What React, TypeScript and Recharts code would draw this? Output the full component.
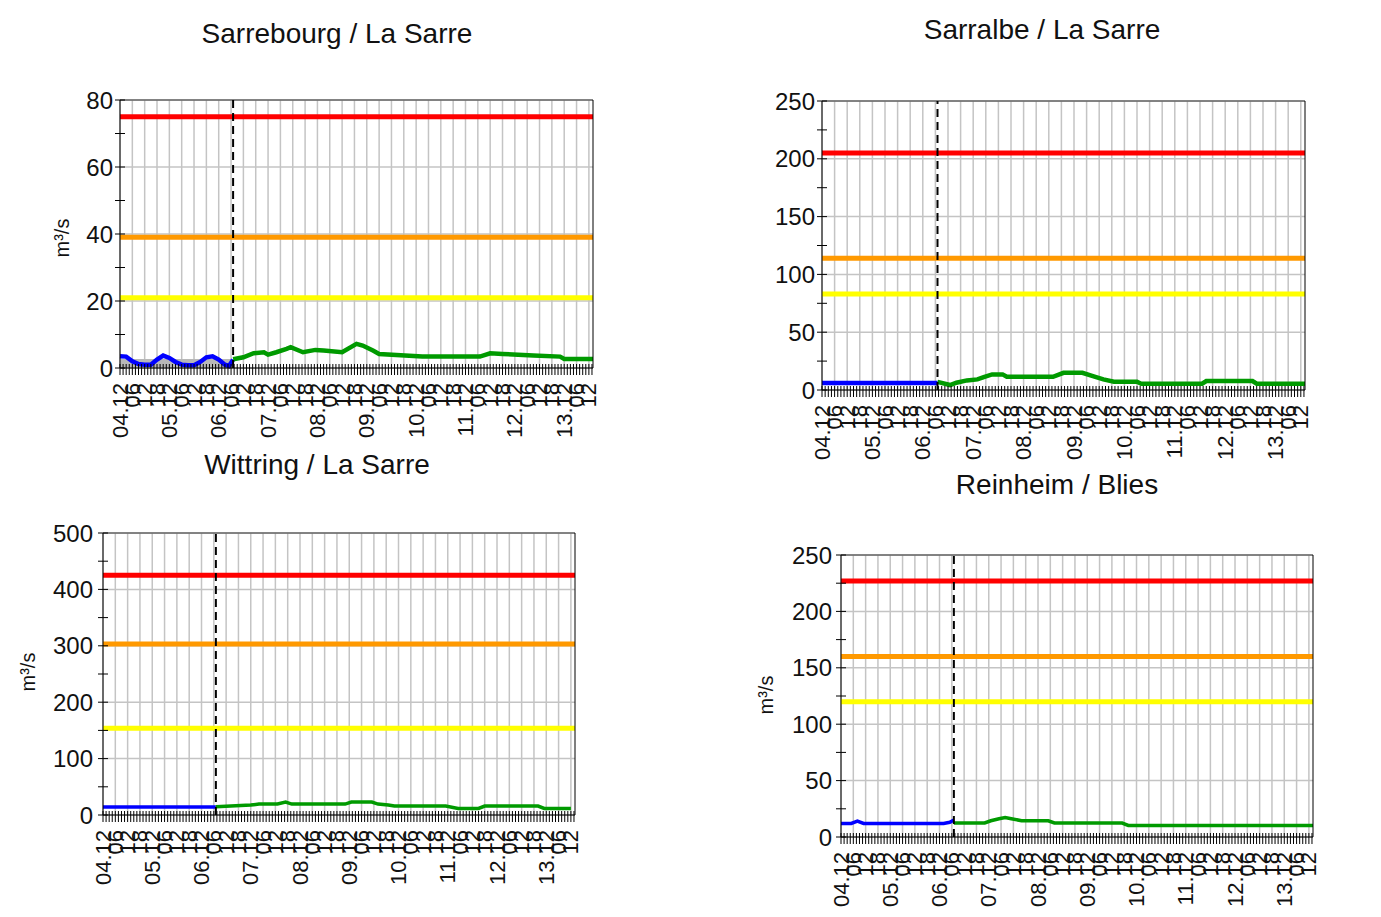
import React from "react";
import { ComposedChart, Line, Area, XAxis, YAxis, CartesianGrid, ReferenceLine } from "recharts";

// x values are hours counted from 04.12 00:00
const dayLabels = ["04.12", "05.12", "06.12", "07.12", "08.12", "09.12", "10.12", "11.12", "12.12", "13.12"];
const hourLabels = ["06", "12", "18"];
const xDomain = [0, 230];
const nowHour = 55;
const gridHours = Array.from({ length: 39 }, (_, i) => i * 6);
const minorHours = Array.from({ length: 154 }, (_, i) => i * 1.5);

// Sarrebourg / La Sarre
const sarrebourgObs = [
  { h: 0, v: 3.5 }, { h: 3, v: 3.4 }, { h: 6, v: 2 }, { h: 9, v: 1.2 }, { h: 12, v: 1 }, { h: 15, v: 1 },
  { h: 18, v: 2.5 }, { h: 21, v: 3.7 }, { h: 24, v: 3 }, { h: 27, v: 1.8 }, { h: 30, v: 1 }, { h: 33, v: 0.8 },
  { h: 36, v: 0.8 }, { h: 39, v: 1.8 }, { h: 42, v: 3.2 }, { h: 45, v: 3.5 }, { h: 48, v: 2.5 }, { h: 51, v: 1 },
  { h: 53, v: 0.6 }, { h: 55, v: 2.5 },
];
const sarrebourgLow = [{ h: 0, v: 2.7 }, { h: 55, v: 2.7 }];
const sarrebourgFc = [
  { h: 55, v: 2.6 }, { h: 60, v: 3.2 }, { h: 65, v: 4.4 }, { h: 70, v: 4.7 }, { h: 72, v: 4 }, { h: 76, v: 4.7 },
  { h: 81, v: 5.7 }, { h: 83, v: 6.2 }, { h: 89, v: 4.7 }, { h: 95, v: 5.4 }, { h: 99, v: 5.2 }, { h: 108, v: 4.7 },
  { h: 115, v: 7.2 }, { h: 118, v: 6.7 }, { h: 123, v: 5.2 }, { h: 126, v: 4.2 }, { h: 147, v: 3.4 }, { h: 175, v: 3.4 },
  { h: 180, v: 4.4 }, { h: 186, v: 4.2 }, { h: 201, v: 3.7 }, { h: 214, v: 3.4 }, { h: 216, v: 2.7 }, { h: 230, v: 2.7 },
];
const sarrebourgLevels = [75, 39, 21];
const sarrebourgTicks = [0, 10, 20, 30, 40, 50, 60, 70, 80];

// Sarralbe / La Sarre
const sarralbeObs = [{ h: 0, v: 6 }, { h: 30, v: 6 }, { h: 55, v: 6 }];
const sarralbeFc = [
  { h: 55, v: 7 }, { h: 61, v: 4.3 }, { h: 64, v: 6.3 }, { h: 69, v: 8.3 }, { h: 74, v: 9.2 }, { h: 77, v: 11.2 },
  { h: 81, v: 13.5 }, { h: 86, v: 13.5 }, { h: 88, v: 11.4 }, { h: 110, v: 11.4 }, { h: 115, v: 14.9 }, { h: 124, v: 14.9 },
  { h: 129, v: 12 }, { h: 134, v: 9.2 }, { h: 139, v: 7.1 }, { h: 150, v: 7.1 }, { h: 152, v: 5.4 }, { h: 181, v: 5.4 },
  { h: 183, v: 7.7 }, { h: 205, v: 7.7 }, { h: 207, v: 5.4 }, { h: 230, v: 5.4 },
];
const sarralbeLevels = [205, 114, 83];
const sarralbeTicks = [0, 25, 50, 75, 100, 125, 150, 175, 200, 225, 250];

// Wittring / La Sarre
const wittringObs = [{ h: 0, v: 14 }, { h: 30, v: 14 }, { h: 55, v: 14 }];
const wittringFc = [
  { h: 55, v: 14.5 }, { h: 72, v: 17.6 }, { h: 76, v: 19.4 }, { h: 85, v: 19.4 }, { h: 89, v: 22.9 }, { h: 92, v: 19.4 },
  { h: 118, v: 19.4 }, { h: 121, v: 22.9 }, { h: 131, v: 22.9 }, { h: 134, v: 19.4 }, { h: 139, v: 17.6 }, { h: 142, v: 15.8 },
  { h: 167, v: 15.8 }, { h: 173, v: 11.7 }, { h: 183, v: 11.7 }, { h: 186, v: 15.8 }, { h: 212, v: 15.8 }, { h: 215, v: 11.7 },
  { h: 228, v: 11.7 },
];
const wittringLevels = [425, 303, 154];
const wittringTicks = [0, 50, 100, 150, 200, 250, 300, 350, 400, 450, 500];

// Reinheim / Blies
const reinheimObs = [
  { h: 0, v: 12 }, { h: 5, v: 12 }, { h: 8, v: 14 }, { h: 11, v: 12 }, { h: 50, v: 12 }, { h: 53, v: 13 }, { h: 55, v: 15 },
];
const reinheimFc = [
  { h: 55, v: 12.4 }, { h: 70, v: 12.4 }, { h: 73, v: 14.4 }, { h: 77, v: 16.2 }, { h: 80, v: 17.3 }, { h: 83, v: 16.2 },
  { h: 88, v: 14.4 }, { h: 101, v: 14.4 }, { h: 104, v: 12.4 }, { h: 137, v: 12.4 }, { h: 140, v: 10.3 }, { h: 230, v: 10.3 },
];
const reinheimLevels = [227, 160, 120];
const reinheimTicks = [0, 25, 50, 75, 100, 125, 150, 175, 200, 225, 250];

const levelColors = ["#ff0000", "#ff9900", "#ffff00"];
const FONT = '"Liberation Sans", Arial, sans-serif';
const X_TICK_SIZE = 7;
const X_TICK_MARGIN = 8;
const Y_TICK_SIZE = 5;
const LEFT_W = 100;
const RIGHT_W = 80;
const X_H = 100;
const TOP_M = 20;

function hourLabel(h: number) {
  const hh = h % 24;
  return hh === 0 ? dayLabels[h / 24] : hourLabels[hh / 6 - 1];
}

function XTick(props: any) {
  const { x, y, payload } = props;
  const h = payload.value;
  const axisY = y - X_TICK_SIZE - X_TICK_MARGIN;
  return (
    <g>
      <line x1={x} x2={x} y1={axisY} y2={axisY - 4} stroke="#000" />
      {h % 6 === 0 && (
        <text
          x={x}
          y={y}
          transform={`rotate(-90, ${x}, ${y})`}
          textAnchor="end"
          dominantBaseline="central"
          fontSize={22}
          fontFamily={FONT}
          fill="#111"
        >
          {hourLabel(h)}
        </text>
      )}
    </g>
  );
}

function YTick(props: any) {
  const { x, y, payload, side, step, margin } = props;
  const v = payload.value;
  const left = side === "left";
  const axisX = left ? x + Y_TICK_SIZE + margin : x - Y_TICK_SIZE - margin;
  return (
    <g>
      <line x1={axisX} x2={left ? axisX + 5 : axisX - 5} y1={y} y2={y} stroke="#000" />
      {v % step === 0 && (
        <text
          x={x}
          y={y}
          textAnchor={left ? "end" : "start"}
          dominantBaseline="central"
          fontSize={24}
          fontFamily={FONT}
          fill="#111"
        >
          {v}
        </text>
      )}
    </g>
  );
}

type PanelProps = {
  x0: number; x1: number; y0: number; y1: number;
  max: number; yTicks: number[]; step: number;
  levels: number[]; obs: { h: number; v: number }[]; fc: { h: number; v: number }[];
  low?: { h: number; v: number }[];
  lm: number; rm: number; lineW: number;
};

function Panel(p: PanelProps) {
  const width = p.x1 - p.x0 + LEFT_W + RIGHT_W;
  const height = p.y1 - p.y0 + TOP_M + X_H;
  const hLines = p.yTicks.filter((t) => t % p.step === 0);
  return (
    <div style={{ position: "absolute", left: p.x0 - LEFT_W, top: p.y0 - TOP_M }}>
      <ComposedChart width={width} height={height} margin={{ top: TOP_M, right: 0, bottom: 0, left: 0 }}>
        <CartesianGrid
          yAxisId="l"
          stroke="#c4c4c4"
          strokeWidth={1.5}
          verticalValues={gridHours}
          horizontalValues={hLines}
        />
        <XAxis
          dataKey="h"
          type="number"
          domain={xDomain}
          ticks={minorHours}
          interval={0}
          height={X_H}
          tickSize={X_TICK_SIZE}
          tickMargin={X_TICK_MARGIN}
          axisLine={{ stroke: "#000" }}
          tickLine={{ stroke: "#000" }}
          tick={(t: any) => <XTick {...t} />}
        />
        <YAxis
          yAxisId="l"
          orientation="left"
          type="number"
          domain={[0, p.max]}
          ticks={p.yTicks}
          interval={0}
          width={LEFT_W}
          tickSize={Y_TICK_SIZE}
          tickMargin={p.lm}
          axisLine={{ stroke: "#000" }}
          tickLine={{ stroke: "#000" }}
          tick={(t: any) => <YTick {...t} side="left" step={p.step} margin={p.lm} />}
        />
        <YAxis
          yAxisId="r"
          orientation="right"
          type="number"
          domain={[0, p.max]}
          ticks={p.yTicks}
          interval={0}
          width={RIGHT_W}
          tickSize={Y_TICK_SIZE}
          tickMargin={p.rm}
          axisLine={{ stroke: "#000" }}
          tickLine={{ stroke: "#000" }}
          tick={(t: any) => <YTick {...t} side="right" step={p.step} margin={p.rm} />}
        />
        <ReferenceLine yAxisId="l" y={p.max} stroke="#333" strokeWidth={1} />
        {p.low && (
          <Area
            yAxisId="l"
            data={p.low}
            dataKey="v"
            type="linear"
            stroke="none"
            fill="#b8b8b8"
            fillOpacity={1}
            isAnimationActive={false}
          />
        )}
        {p.levels.map((lv, i) => (
          <ReferenceLine key={i} yAxisId="l" y={lv} stroke={levelColors[i]} strokeWidth={5} />
        ))}
        <Line
          yAxisId="l"
          data={p.obs}
          dataKey="v"
          type="linear"
          stroke="#0000ff"
          strokeWidth={p.lineW}
          dot={false}
          isAnimationActive={false}
        />
        <Line
          yAxisId="l"
          data={p.fc}
          dataKey="v"
          type="linear"
          stroke="#009a00"
          strokeWidth={p.lineW}
          dot={false}
          isAnimationActive={false}
        />
        <ReferenceLine yAxisId="l" x={nowHour} stroke="#000" strokeWidth={2} strokeDasharray="8 5" />
      </ComposedChart>
    </div>
  );
}

const titleStyle: React.CSSProperties = {
  position: "absolute",
  transform: "translate(-50%, -50%)",
  fontFamily: FONT,
  fontSize: 28,
  color: "#111",
  whiteSpace: "nowrap",
};

const unitStyle: React.CSSProperties = {
  position: "absolute",
  transform: "translate(-50%, -50%) rotate(-90deg)",
  fontFamily: FONT,
  fontSize: 20,
  color: "#111",
  whiteSpace: "nowrap",
};

export default function App() {
  return (
    <div style={{ position: "relative", margin: -8, width: 1381, height: 917, background: "#fff", overflow: "hidden" }}>
      <Panel x0={120} x1={593} y0={100} y1={368} max={80} yTicks={sarrebourgTicks} step={20}
        levels={sarrebourgLevels} obs={sarrebourgObs} fc={sarrebourgFc} low={sarrebourgLow} lm={2} rm={15} lineW={4.5} />
      <Panel x0={822} x1={1305} y0={101} y1={390} max={250} yTicks={sarralbeTicks} step={50}
        levels={sarralbeLevels} obs={sarralbeObs} fc={sarralbeFc} lm={2} rm={18} lineW={4.5} />
      <Panel x0={103} x1={575} y0={533} y1={815} max={500} yTicks={wittringTicks} step={100}
        levels={wittringLevels} obs={wittringObs} fc={wittringFc} lm={5} rm={17} lineW={3.5} />
      <Panel x0={841} x1={1313} y0={555} y1={837} max={250} yTicks={reinheimTicks} step={50}
        levels={reinheimLevels} obs={reinheimObs} fc={reinheimFc} lm={4} rm={18} lineW={3.5} />

      <div style={{ ...titleStyle, left: 337, top: 34 }}>Sarrebourg / La Sarre</div>
      <div style={{ ...titleStyle, left: 1042, top: 30 }}>Sarralbe / La Sarre</div>
      <div style={{ ...titleStyle, left: 317, top: 465 }}>Wittring / La Sarre</div>
      <div style={{ ...titleStyle, left: 1057, top: 485 }}>Reinheim / Blies</div>

      <div style={{ ...unitStyle, left: 62, top: 238 }}>m³/s</div>
      <div style={{ ...unitStyle, left: 28, top: 672 }}>m³/s</div>
      <div style={{ ...unitStyle, left: 766, top: 695 }}>m³/s</div>
    </div>
  );
}
